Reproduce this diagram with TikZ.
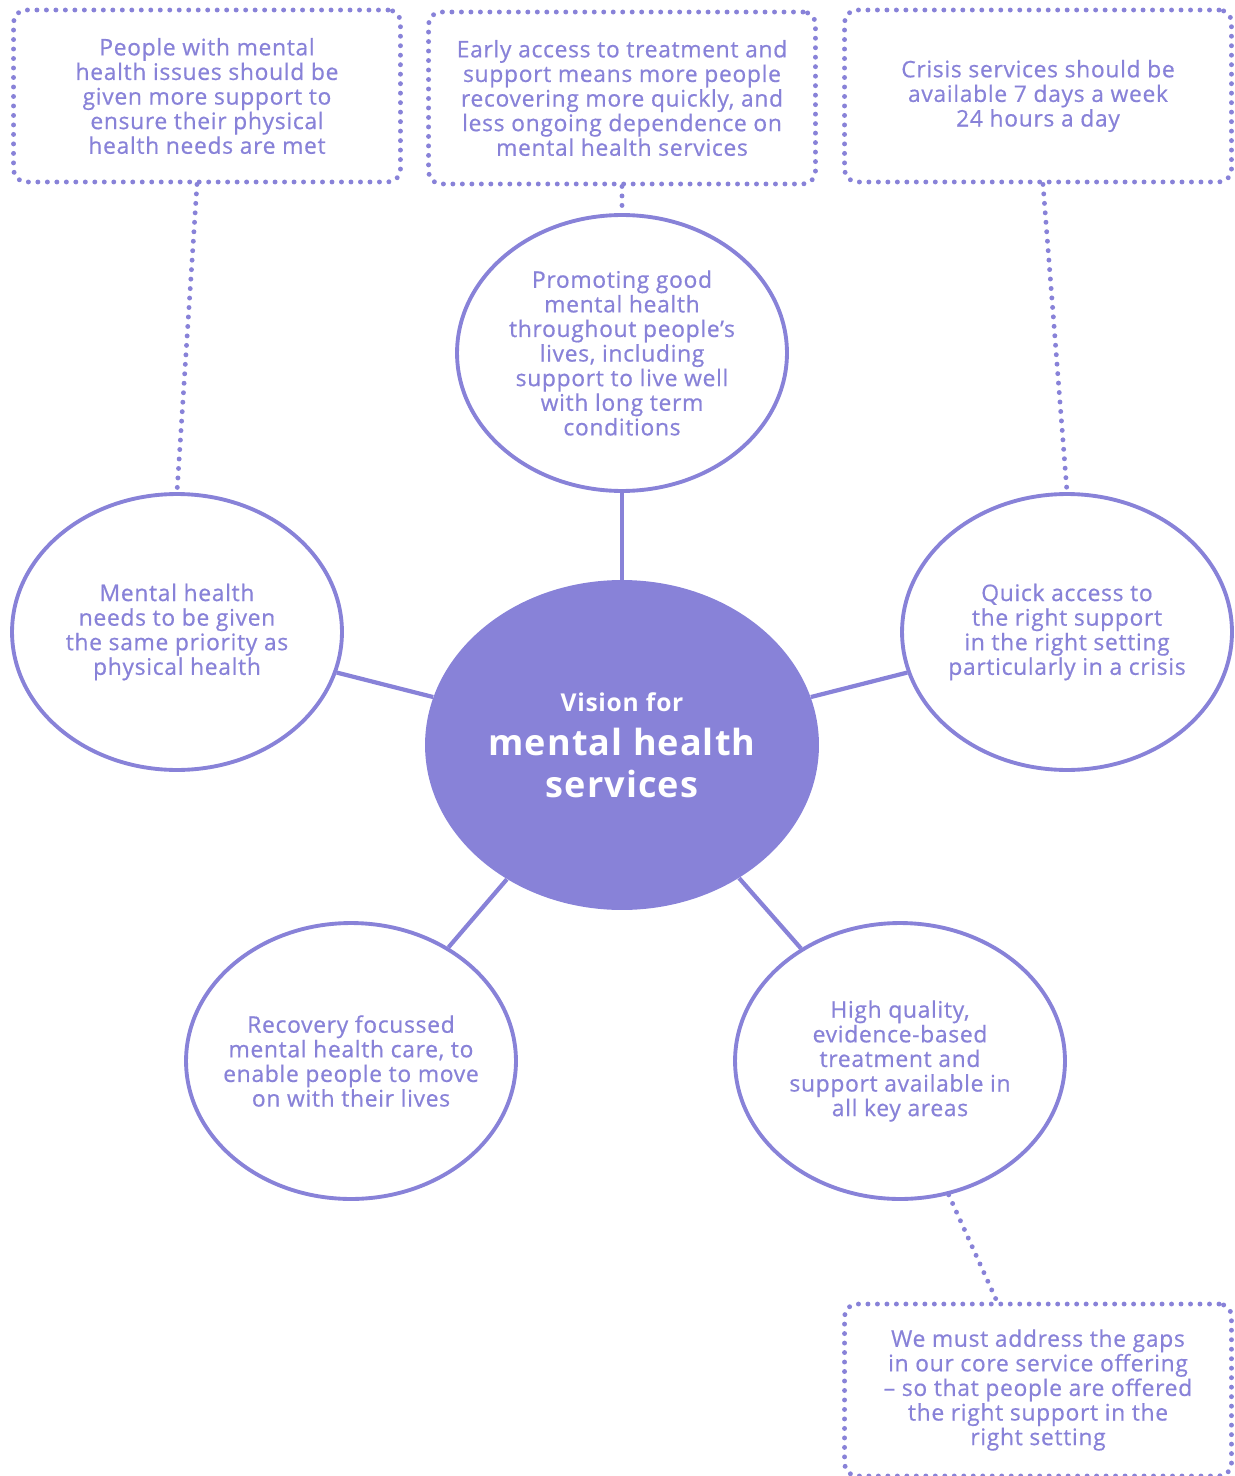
\documentclass[tikz,border=0pt]{standalone}
\usepackage{fontspec}
\setmainfont{Open Sans}[LetterSpace=3]
\newfontfamily\medfont{Open Sans}[LetterSpace=3, FakeBold=0.6]
\usepackage{tikz}
\usetikzlibrary{shapes.geometric, calc}
\definecolor{lavender}{RGB}{136,130,216}

\tikzset{
  idea/.style={ellipse, draw=lavender, line width=2.2pt, fill=white,
    minimum width=6.6cm, minimum height=5.52cm, inner xsep=-0.6cm, inner ysep=0pt,
    text=lavender, align=center, font=\medfont\fontsize{13}{14}\selectfont},
  hub/.style={ellipse, fill=lavender, draw=none,
    minimum width=7.88cm, minimum height=6.6cm, inner sep=0pt,
    text=white, align=center, font=\bfseries\fontsize{20.5}{23.5}\selectfont},
  notebox/.style={rectangle, rounded corners=0.25cm, draw=lavender,
    line width=2.8pt, line cap=round, dash pattern=on 0pt off 5.4pt,
    minimum width=7.74cm, minimum height=3.44cm, inner sep=0pt,
    text=lavender, align=center, font=\medfont\fontsize{13}{14}\selectfont},
  link/.style={draw=lavender, line width=2.4pt},
  dotlink/.style={draw=lavender, line width=2.8pt, line cap=round,
    dash pattern=on 0pt off 5.4pt},
}

\begin{document}
\begin{tikzpicture}[x=0.02cm, y=-0.02cm]
    % Fix the page to the reference size
    \useasboundingbox (0,0) rectangle (1234,1476);

    % Draw the central vision
    \node[hub] (vision) at (622,745)
      {{\fontsize{14}{17}\selectfont Vision for}\\[2pt] mental health\\ services};

    % Draw the five priorities round it
    \node[idea] (top) at (622,353) {Promoting good\\ mental health\\ throughout people’s\\ lives, including\\ support to live well\\ with long term\\ conditions};
    \node[idea] (left) at (177,632) {Mental health\\ needs to be given\\ the same priority as\\ physical health};
    \node[idea] (right) at (1067,632) {Quick access to\\ the right support\\ in the right setting\\ particularly in a crisis};
    \node[idea] (bl) at (351,1061) {Recovery focussed\\ mental health care, to\\ enable people to move\\ on with their lives};
    \node[idea] (br) at (900,1061) {High quality,\\ evidence-based\\ treatment and\\ support available in\\ all key areas};

    % Connect the priorities to the centre
    \foreach \n in {top, left, right, bl, br}
        \draw[link] (vision) -- (\n);

    % Draw the dotted notes
    \node[notebox] (note1) at (207,96) {People with mental\\ health issues should be\\ given more support to\\ ensure their physical\\ health needs are met};
    \node[notebox] (note2) at (622,98) {Early access to treatment and\\ support means more people\\ recovering more quickly, and\\ less ongoing dependence on\\ mental health services};
    \node[notebox] (note3) at (1038,96) {Crisis services should be\\ available 7 days a week\\ 24 hours a day};
    \node[notebox] (note4) at (1038,1390) {We must address the gaps\\ in our core service offering\\ – so that people are offered\\ the right support in the\\ right setting};

    % Connect the notes with dotted lines
    \draw[dotlink] ($(note1.south)+(-10,0)$) -- (left.north);
    \draw[dotlink] (note2.south) -- (top.north);
    \draw[dotlink] ($(note3.south)+(5,0)$) -- (right.north);
    \draw[dotlink] (br.-70) -- ($(note4.north)+(-41,0)$);

\end{tikzpicture}
\end{document}
